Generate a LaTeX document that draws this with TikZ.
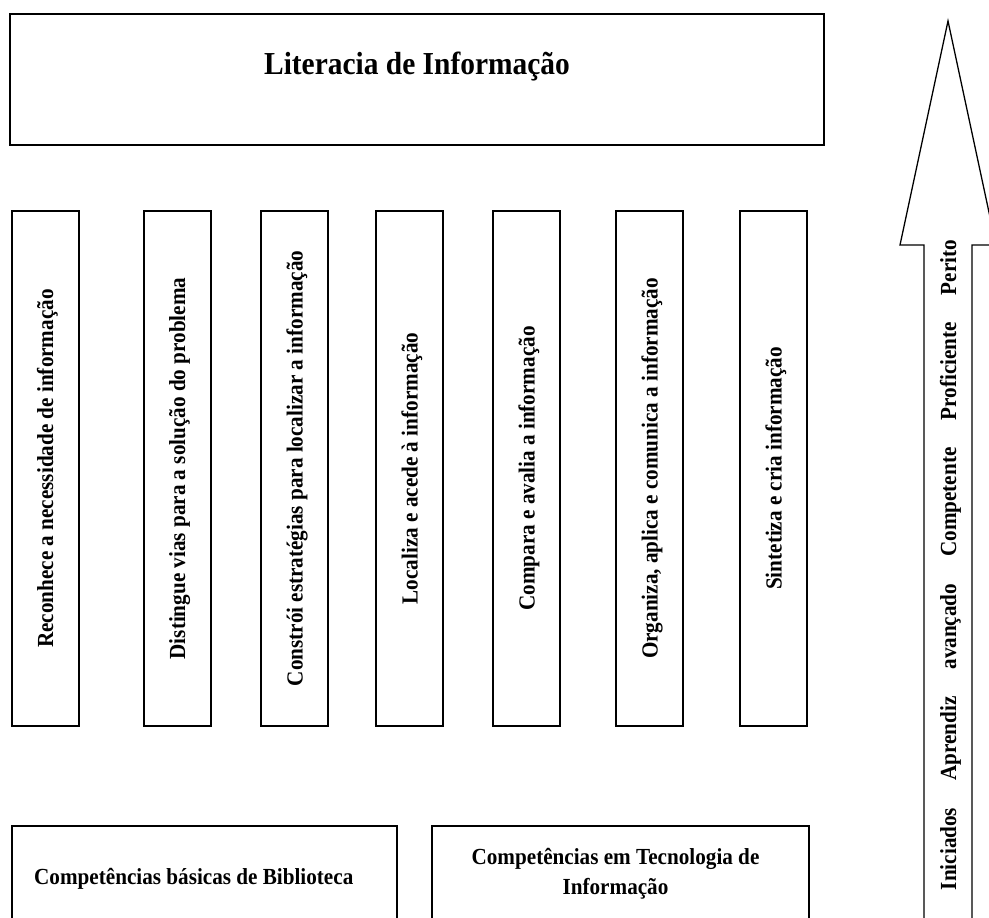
\documentclass[tikz,border=0pt]{standalone}
\usepackage{fontspec}
\setmainfont{Liberation Serif}[FakeStretch=0.92]
\usetikzlibrary{positioning}

\tikzstyle{titlebox} = [draw,line width=2pt,minimum width=814pt,minimum height=131pt,inner sep=0pt]
\tikzstyle{stepbox} = [draw,line width=2pt,minimum width=67pt,minimum height=515pt,inner sep=0pt]
\tikzstyle{basebox} = [draw,line width=2pt,minimum height=130pt,inner sep=0pt]
\tikzstyle{titletext} = [font=\bfseries\fontsize{32}{37}\selectfont,inner sep=0pt]
\tikzstyle{boxtext} = [font=\bfseries\fontsize{23}{26}\selectfont,inner sep=0pt]
\tikzstyle{levelarrow} = [draw,line width=1.3pt,line join=miter]

\begin{document}
\begin{tikzpicture}[x=1pt,y=-1pt]
    \useasboundingbox (0,0) rectangle (989,918);

    %title
    \node[titlebox] (literacy) at (417,79.5) {};
    \node[titletext,anchor=base] (literacytext) at ([yshift=-61pt]literacy.north) {Literacia de Informação};

    %steps
    \foreach \name/\x/\label in {
      recognise/45/Reconhece a necessidade de informação,
      distinguish/177/Distingue vias para a solução do problema,
      strategy/294.5/Constrói estratégias para localizar a informação,
      locate/409.5/Localiza e acede à informação,
      compare/526.5/Compara e avalia a informação,
      organise/649.5/{Organiza, aplica e comunica a informação},
      synthesise/773.5/Sintetiza e cria informação}
    {
      \node[stepbox] (\name) at (\x,468.5) {};
      \node[boxtext,rotate=90,anchor=base] at ([xshift=8pt]\name.center) {\label};
    }

    %base skills
    \node[basebox,minimum width=385pt] (library) at (204.5,891) {};
    \node[basebox,minimum width=377pt] (technology) at (620.5,891) {};
    \node[boxtext,anchor=base west] (librarytext) at ([xshift=23pt,yshift=-59pt]library.north west) {Competências básicas de Biblioteca};
    \node[boxtext,anchor=base] (technologytext) at ([xshift=-5pt,yshift=-39pt]technology.north) {Competências em Tecnologia de};
    \node[boxtext,anchor=base] (technologytext2) at ([yshift=-30pt]technologytext.base) {Informação};

    %levels
    \draw[levelarrow] (924,960) -- (924,245) -- (900,245) -- (948,21) -- (996,245) -- (972,245) -- (972,960);
    \node[boxtext,rotate=90,anchor=base] (levels) at (956,565)
      {Iniciados\hspace{27pt}Aprendiz\hspace{27pt}avançado\hspace{27pt}Competente\hspace{27pt}Proficiente\hspace{27pt}Perito};

\end{tikzpicture}
\end{document}
